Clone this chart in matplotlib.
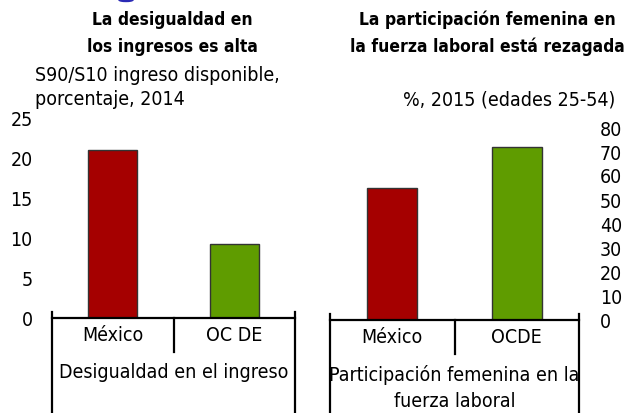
import matplotlib.pyplot as plt
from matplotlib.patches import Ellipse
from matplotlib.transforms import blended_transform_factory

plt.rcParams['font.family'] = ['DejaVu Sans']
plt.rcParams['font.stretch'] = 'condensed'

# data
paises = ['México', 'OCDE']
desigualdad = [21.0, 9.3]
participacion = [55, 72]
colores = ['#a50000', '#5f9c00']
ticks_izq = [0, 5, 10, 15, 20, 25]
ticks_der = [0, 10, 20, 30, 40, 50, 60, 70, 80]

fig = plt.figure(figsize=(6.29, 4.13), dpi=100)
fs = 14


def panel(ax, vals, labels, ylim, yticks, grupo, grupo_y, right=False):
    ax.bar(range(len(vals)), vals, width=0.4, color=colores,
           edgecolor='#333333', linewidth=1.0, zorder=2)
    ax.set_xlim(-0.5, 1.5)
    ax.set_ylim(*ylim)
    for s in ['top', 'right', 'left']:
        ax.spines[s].set_visible(False)
    ax.spines['bottom'].set_linewidth(1.6)
    ax.spines['bottom'].set_zorder(3)
    ax.set_xticks(range(len(vals)))
    ax.set_xticklabels(labels, fontsize=fs)
    ax.tick_params(axis='x', length=0, pad=6)
    ax.set_yticks(yticks)
    if right:
        ax.tick_params(axis='y', left=False, right=False, labelleft=False,
                       labelright=True, length=0, pad=15, labelsize=fs)
        for t in ax.get_yticklabels():
            t.set_horizontalalignment('left')
    else:
        ax.tick_params(axis='y', length=0, pad=14, labelsize=fs)
    # lineas verticales que forman la caja del grupo
    tr = blended_transform_factory(ax.transData, fig.transFigure)
    tra = blended_transform_factory(ax.transData, ax.transAxes)
    y0 = ax.get_position().y0
    up = 6 / 413
    for x in [-0.5, 1.5]:
        ax.plot([x, x], [y0 + up, 0], transform=tr, color='black',
                lw=1.6, clip_on=False, zorder=3)
    ax.plot([0.5, 0.5], [y0, y0 - 34 / 413], transform=tr, color='black',
            lw=1.6, clip_on=False, zorder=3)
    ax.text(0.5, grupo_y, grupo, transform=tra, ha='center', va='center',
            fontsize=fs, linespacing=1.42)


ax1 = fig.add_axes([52 / 629, 95 / 413, 243 / 629, 200 / 413])
panel(ax1, desigualdad, ['México', 'OC DE'], (0, 25), ticks_izq,
      'Desigualdad en el ingreso', -0.27)

ax2 = fig.add_axes([330 / 629, 93 / 413, 249 / 629, 192 / 413])
panel(ax2, participacion, paises, (0, 80), ticks_der,
      'Participación femenina en la\nfuerza laboral', -0.354, right=True)

# titulos
fig.text(172 / 629, 1 - 33.5 / 413, 'La desigualdad en\nlos ingresos es alta',
         ha='center', va='center', fontsize=12.5, fontweight='bold', linespacing=1.6)
fig.text(35 / 629, 1 - 87.5 / 413, 'S90/S10 ingreso disponible,\nporcentaje, 2014',
         ha='left', va='center', fontsize=fs, linespacing=1.37)
fig.text(487 / 629, 1 - 33.5 / 413, 'La participación femenina en\nla fuerza laboral está rezagada',
         ha='center', va='center', fontsize=12.5, fontweight='bold', linespacing=1.6)
fig.text(615 / 629, 1 - 100 / 413, '%, 2015 (edades 25-54)',
         ha='right', va='center', fontsize=fs)

# pedazo del icono azul recortado arriba
fig.patches.append(Ellipse((126 / 629, 1.0), 14 / 629, 3 / 413, color='#2a2ab5',
                           transform=fig.transFigure, figure=fig))

fig.savefig('out.png', dpi=100)
